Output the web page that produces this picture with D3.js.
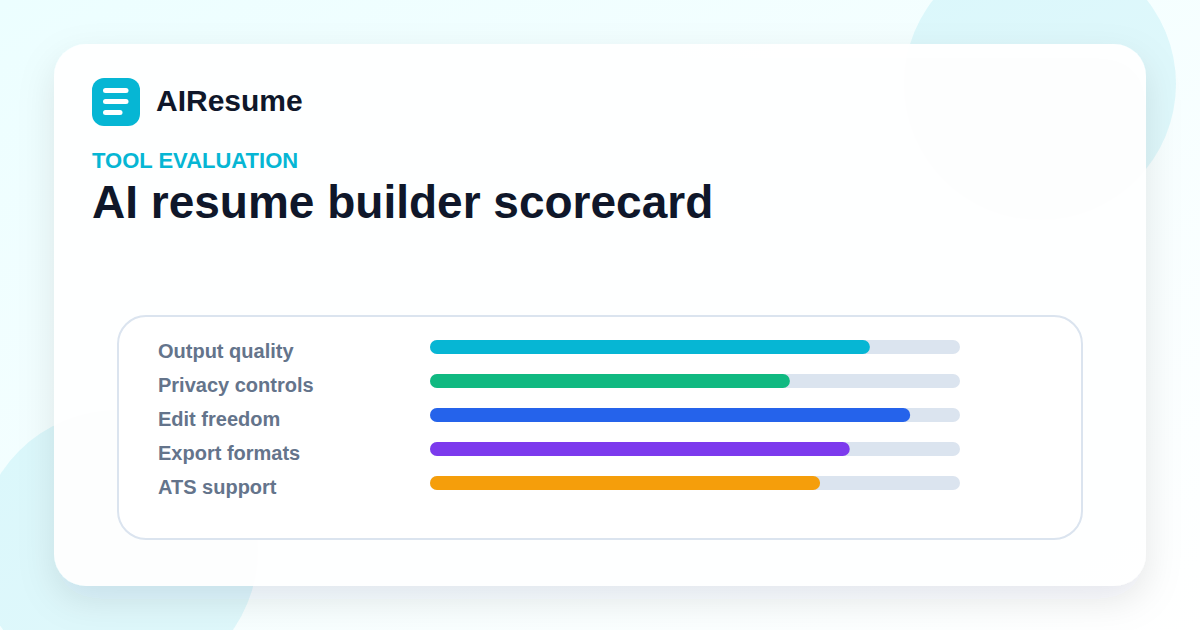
<!DOCTYPE html>
<html>
<head>
<meta charset="utf-8">
<script src="https://cdn.jsdelivr.net/npm/d3@7"></script>
<style>
html, body { margin: 0; padding: 0; background: #fff; }
svg { display: block; }
text { font-family: "Liberation Sans", Arial, sans-serif; }
</style>
</head>
<body>
<svg id="chart" width="1200" height="630"></svg>
<script>
// scorecard data
const criteria = ['Output quality', 'Privacy controls', 'Edit freedom', 'Export formats', 'ATS support'];
const scores = [83, 67.9, 90.6, 79.2, 73.6];
const barColors = ['#06b6d4', '#10b981', '#2563eb', '#7c3aed', '#f59e0b'];
const scoreMax = [100];

const svg = d3.select('#chart');
const defs = svg.append('defs');

const bg = defs.append('linearGradient').attr('id', 'bg')
    .attr('x1', 0).attr('y1', 0).attr('x2', 1).attr('y2', 1);
bg.append('stop').attr('offset', 0).attr('stop-color', '#ecfeff');
bg.append('stop').attr('offset', 1).attr('stop-color', '#ffffff');

const shadow = defs.append('filter').attr('id', 'cardShadow')
    .attr('x', '-10%').attr('y', '-10%').attr('width', '120%').attr('height', '130%');
shadow.append('feDropShadow')
    .attr('dx', 0).attr('dy', 14).attr('stdDeviation', 18)
    .attr('flood-color', '#0f172a').attr('flood-opacity', 0.1);

svg.append('rect').attr('width', 1200).attr('height', 630).attr('fill', 'url(#bg)');

// background blobs
svg.append('circle').attr('cx', 1040).attr('cy', 84).attr('r', 136).attr('fill', '#06b6d4').attr('fill-opacity', 0.1);
svg.append('circle').attr('cx', 118).attr('cy', 550).attr('r', 140).attr('fill', '#06b6d4').attr('fill-opacity', 0.1);

// card
svg.append('rect')
    .attr('x', 54).attr('y', 44).attr('width', 1092).attr('height', 542).attr('rx', 32)
    .attr('fill', '#fff').attr('fill-opacity', 0.96)
    .attr('filter', 'url(#cardShadow)');

// logo
const logo = svg.append('g');
logo.append('rect').attr('x', 92).attr('y', 78).attr('width', 48).attr('height', 48).attr('rx', 12).attr('fill', '#06b6d4');
[25.5, 25.5, 19.5].forEach((w, i) => {
    logo.append('rect').attr('x', 103).attr('y', 88 + i * 11).attr('width', w).attr('height', 5).attr('rx', 2.5).attr('fill', '#fff');
});
svg.append('text').attr('x', 156).attr('y', 111).attr('font-size', 30).attr('font-weight', 700).attr('fill', '#0f172a').text('AIResume');

svg.append('text').attr('x', 92).attr('y', 168).attr('font-size', 22).attr('font-weight', 700).attr('fill', '#06b6d4').text('TOOL EVALUATION');
svg.append('text').attr('x', 92).attr('y', 218).attr('font-size', 46).attr('font-weight', 700).attr('fill', '#0f172a').text('AI resume builder scorecard');

// inner panel
svg.append('rect')
    .attr('x', 118).attr('y', 316).attr('width', 964).attr('height', 223).attr('rx', 28)
    .attr('fill', '#fff').attr('stroke', '#dbe4ef').attr('stroke-width', 2);

const x = d3.scaleLinear().domain([0, scoreMax[0]]).range([430, 960]);
const y = d3.scaleBand().domain(criteria).range([330, 500]);

const rows = svg.selectAll('.row').data(criteria).join('g').attr('class', 'row');

rows.append('text')
    .attr('x', 158)
    .attr('y', d => y(d) + 28)
    .attr('font-size', 20).attr('font-weight', 700).attr('fill', '#64748b')
    .text(d => d);

rows.append('rect')
    .attr('x', x(0)).attr('y', d => y(d) + 10)
    .attr('width', x(100) - x(0)).attr('height', 14).attr('rx', 7)
    .attr('fill', '#dbe4ef');

rows.append('rect')
    .attr('x', x(0)).attr('y', d => y(d) + 10)
    .attr('width', (d, i) => x(scores[i]) - x(0)).attr('height', 14).attr('rx', 7)
    .attr('fill', (d, i) => barColors[i]);
</script>
</body>
</html>
